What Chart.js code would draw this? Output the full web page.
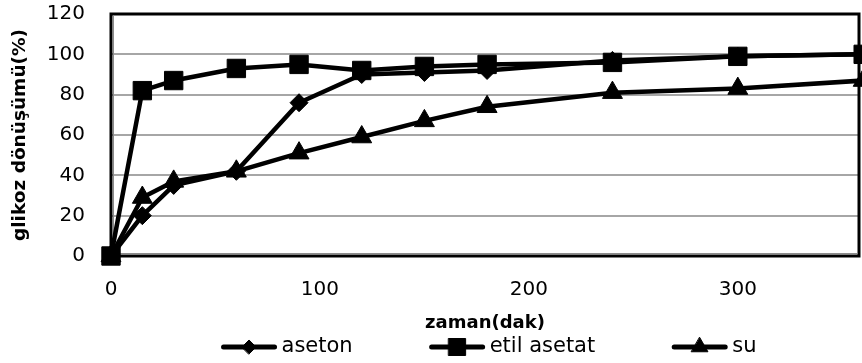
<!DOCTYPE html>
<html>
<head>
<meta charset="utf-8">
<script src="https://cdn.jsdelivr.net/npm/chart.js@4/dist/chart.umd.min.js"></script>
<style>
  html, body { margin: 0; padding: 0; background: #fff; }
  canvas { display: block; }
</style>
</head>
<body>
<canvas id="chart" width="862" height="363"></canvas>
<script>
// Reaction time (min) and glucose conversion (%) per solvent
const times = [0, 15, 30, 60, 90, 120, 150, 180, 240, 300, 360];
const aseton = [0, 20, 35, 42, 76, 90, 91, 92, 97, 99, 100];
const etilAsetat = [0, 82, 87, 93, 95, 92, 94, 95, 96, 99, 100];
const su = [0, 29, 37, 42, 51, 59, 67, 74, 81, 83, 87];

const seriesNames = ['aseton', 'etil asetat', 'su'];
const xTickValues = [0, 100, 200, 300];
const yTickStep = 20;
const xTitle = 'zaman(dak)';
const yTitle = 'glikoz dönüşümü(%)';

const FONT = "'DejaVu Sans', sans-serif";

function toPoints(values) {
  return times.map((t, i) => ({ x: t, y: values[i] }));
}

// Black frame around the plot with a thin grey rule along the base and left side
const plotFrame = {
  id: 'plotFrame',
  beforeDatasetsDraw(chart) {
    const { ctx, chartArea: a } = chart;
    ctx.save();
    ctx.strokeStyle = '#000';
    ctx.lineWidth = 3;
    ctx.strokeRect(a.left, a.top, a.right - a.left, a.bottom - a.top);
    ctx.strokeStyle = '#8c8c8c';
    ctx.lineWidth = 1;
    ctx.beginPath();
    ctx.moveTo(a.left + 2, a.bottom - 2.5);
    ctx.lineTo(a.right - 2, a.bottom - 2.5);
    ctx.moveTo(a.left + 2.5, a.top + 2);
    ctx.lineTo(a.left + 2.5, a.bottom - 2);
    ctx.stroke();
    ctx.restore();
  }
};

// Legend row: line sample with marker, then the series name
const legendRow = {
  id: 'legendRow',
  afterDraw(chart) {
    const { ctx, chartArea: a } = chart;
    const y = 347, sampleLen = 55, textGap = 5, itemGap = 77;
    const markerRadius = { rectRot: 7, rect: 12, triangle: 9.5 };
    ctx.save();
    ctx.font = '21px ' + FONT;
    ctx.textBaseline = 'middle';
    const items = chart.data.datasets.map(ds => ({
      ds,
      w: sampleLen + textGap + ctx.measureText(ds.label).width
    }));
    const total = items.reduce((s, it) => s + it.w, 0) + itemGap * (items.length - 1);
    let x = (a.left + a.right) / 2 + 4 - total / 2;
    items.forEach(({ ds, w }) => {
      ctx.strokeStyle = ds.borderColor;
      ctx.fillStyle = ds.backgroundColor;
      ctx.lineWidth = 5;
      ctx.lineCap = 'round';
      ctx.beginPath();
      ctx.moveTo(x + 2, y);
      ctx.lineTo(x + sampleLen - 2, y);
      ctx.stroke();
      ctx.lineWidth = 1;
      Chart.helpers.drawPoint(ctx, {
        pointStyle: ds.pointStyle,
        radius: markerRadius[ds.pointStyle],
        borderWidth: 1,
        rotation: 0
      }, x + sampleLen / 2, y);
      ctx.fillStyle = '#000';
      ctx.textAlign = 'left';
      ctx.fillText(ds.label, x + sampleLen + textGap, y);
      x += w + itemGap;
    });
    ctx.restore();
  }
};

const lineStyle = {
  borderColor: '#000',
  backgroundColor: '#000',
  pointBorderColor: '#000',
  pointBackgroundColor: '#000',
  borderWidth: 4.5,
  pointBorderWidth: 1,
  tension: 0,
  clip: false,
  borderJoinStyle: 'round'
};

new Chart(document.getElementById('chart'), {
  type: 'line',
  data: {
    datasets: [
      { ...lineStyle, label: seriesNames[0], data: toPoints(aseton), pointStyle: 'rectRot', pointRadius: 9, order: 1 },
      { ...lineStyle, label: seriesNames[1], data: toPoints(etilAsetat), pointStyle: 'rect', pointRadius: 13, order: 0 },
      { ...lineStyle, label: seriesNames[2], data: toPoints(su), pointStyle: 'triangle', pointRadius: 11.5, order: 2 }
    ]
  },
  options: {
    responsive: false,
    animation: false,
    devicePixelRatio: 1,
    layout: { autoPadding: false, padding: { left: 0, top: 14, right: 3, bottom: 27 } },
    plugins: {
      legend: { display: false },
      tooltip: { enabled: false }
    },
    scales: {
      x: {
        type: 'linear',
        min: 0,
        max: 358,
        afterBuildTicks: s => { s.ticks = xTickValues.map(v => ({ value: v })); },
        afterFit: s => { s.height = 80; s.paddingLeft = 0; s.paddingRight = 0; },
        grid: { display: false, drawTicks: false },
        border: { display: false },
        ticks: { font: { family: FONT, size: 20 }, color: '#000', padding: 22, maxRotation: 0 },
        title: {
          display: true, text: xTitle, color: '#000',
          font: { family: FONT, size: 18, weight: 'bold' },
          padding: { top: 0, bottom: 2 }
        }
      },
      y: {
        min: 0,
        max: 120,
        afterFit: s => { s.width = 111; s.paddingTop = 0; s.paddingBottom = 0; },
        grid: { color: '#a6a6a6', lineWidth: 2, drawTicks: false },
        border: { display: false },
        ticks: { stepSize: yTickStep, font: { family: FONT, size: 20 }, color: '#000', padding: 26 },
        title: {
          display: true, text: yTitle, color: '#000',
          font: { family: FONT, size: 18.5, weight: 'bold' },
          padding: { top: 9, bottom: 0 }
        }
      }
    }
  },
  plugins: [plotFrame, legendRow]
});
</script>
</body>
</html>
